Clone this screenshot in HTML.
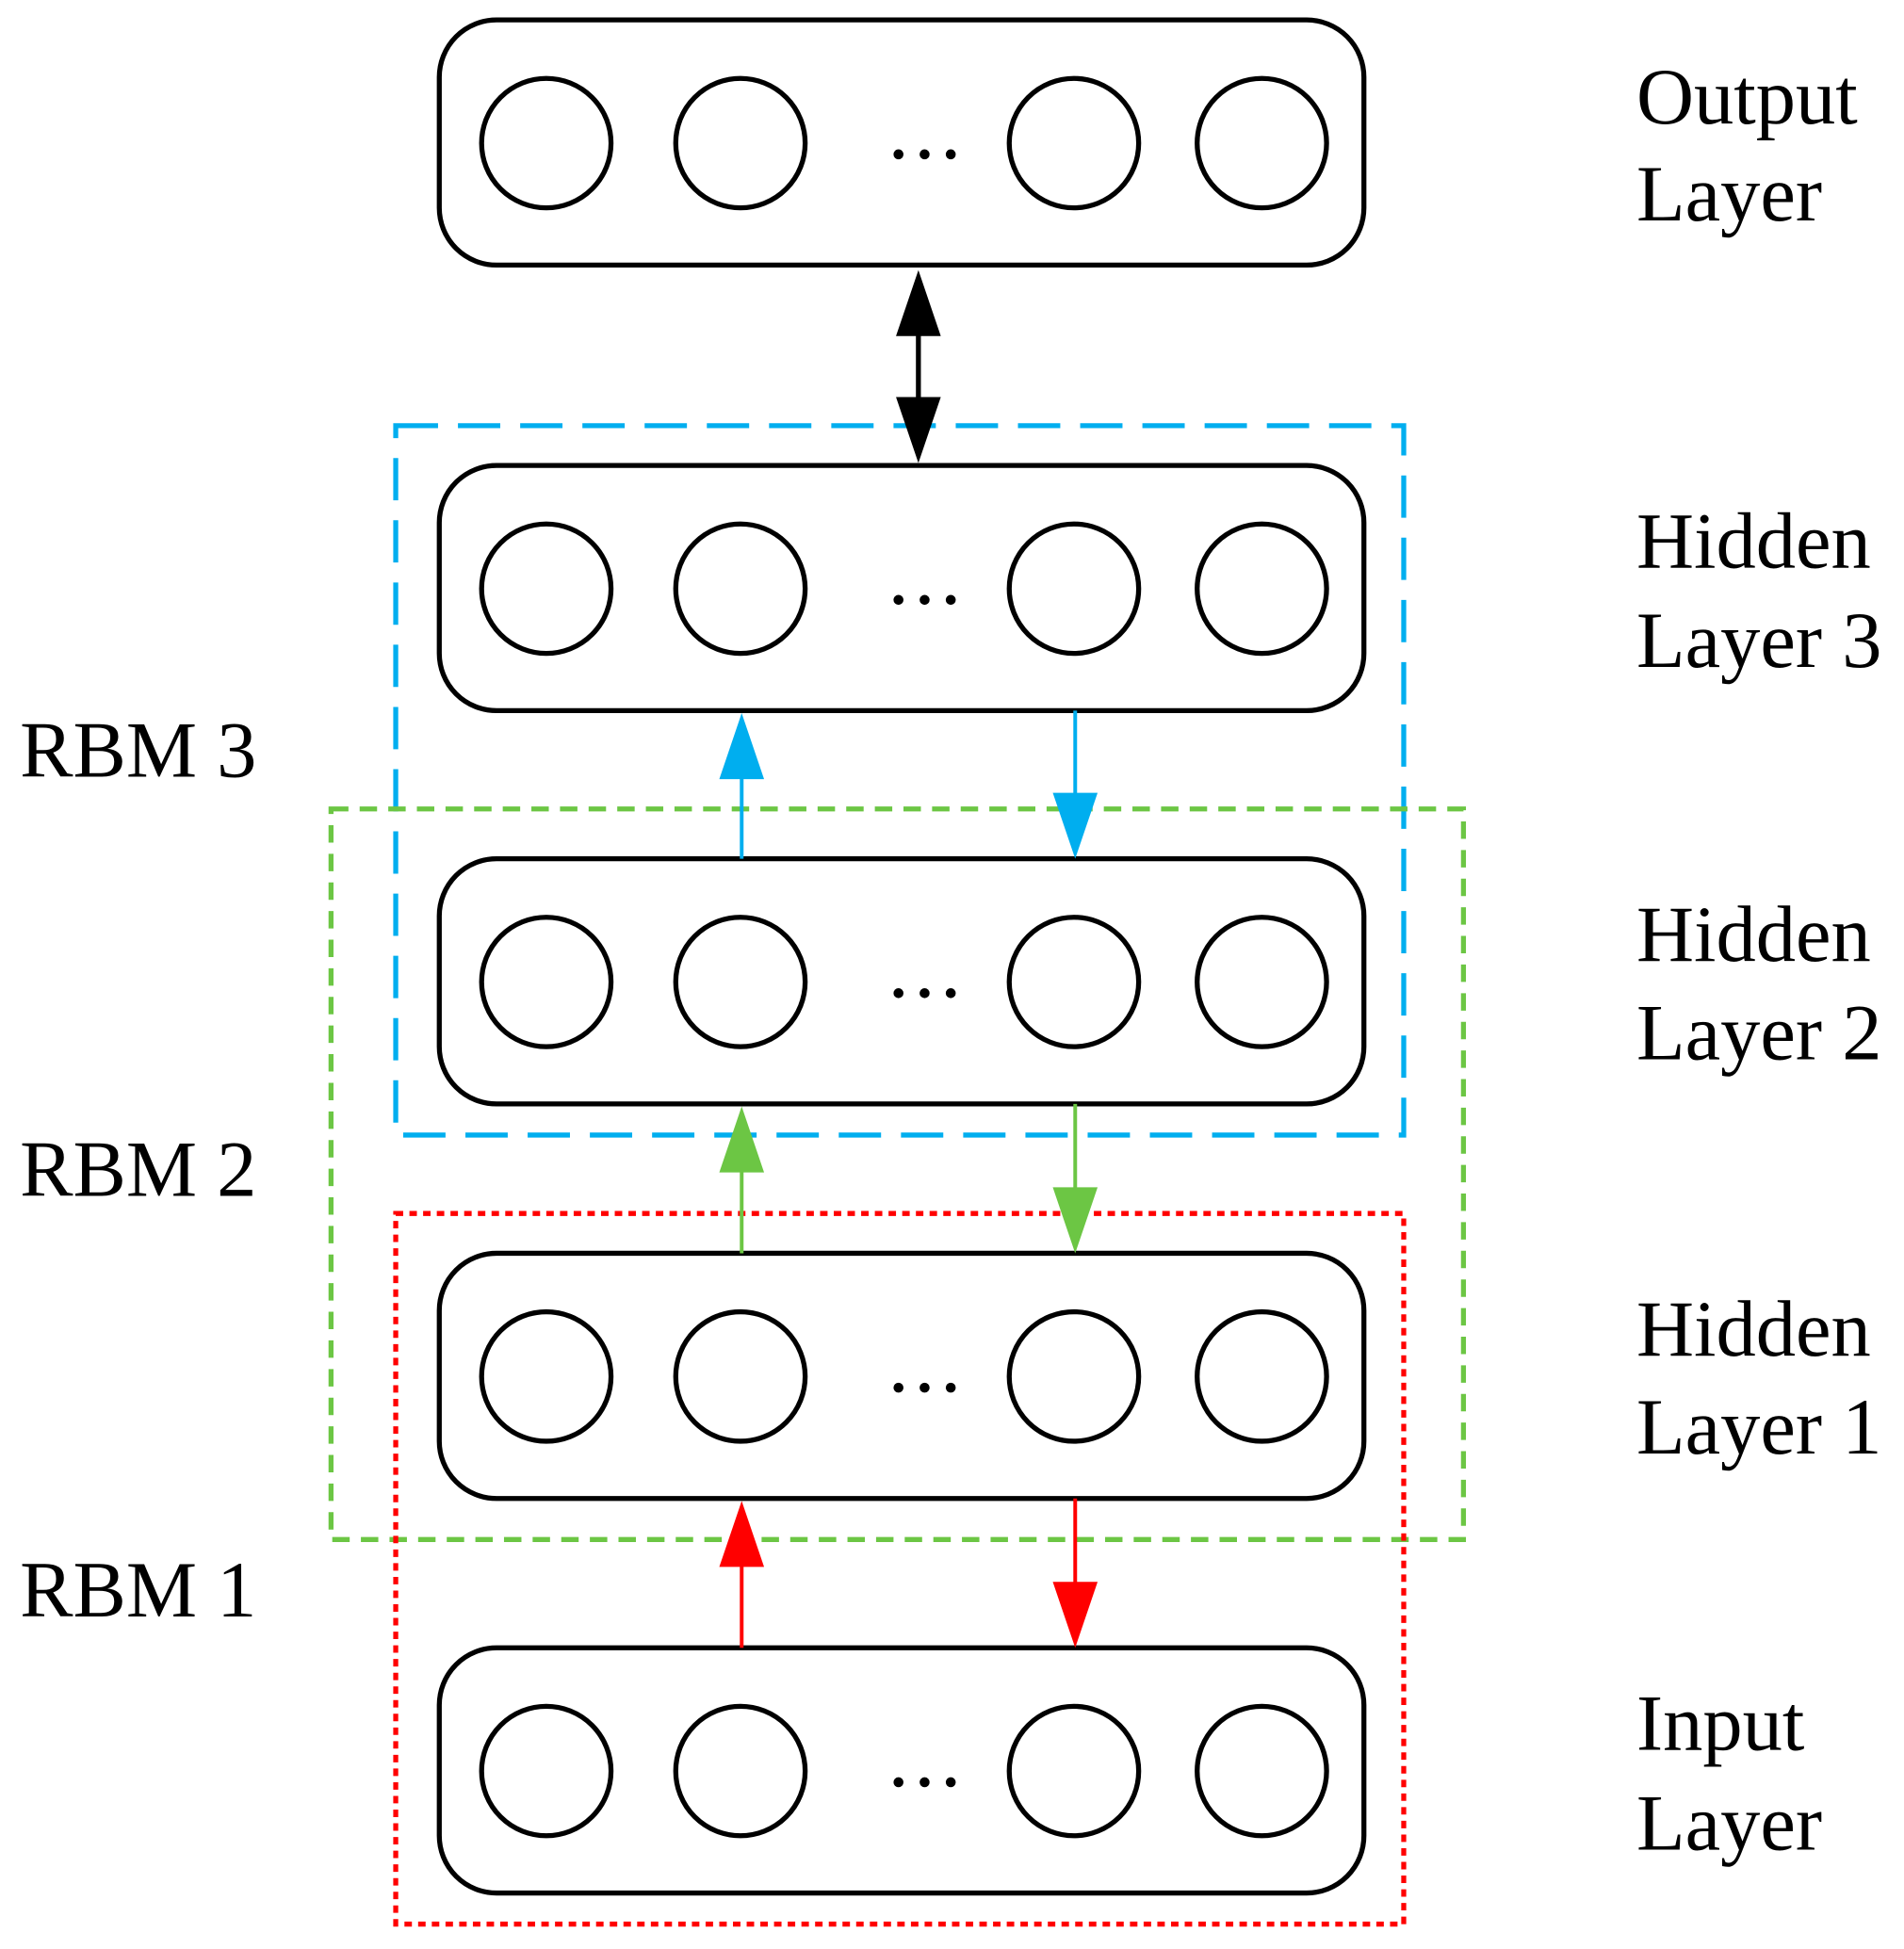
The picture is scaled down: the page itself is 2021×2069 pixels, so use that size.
<!DOCTYPE html>
<html><head><meta charset="utf-8"><style>
html,body{margin:0;padding:0;background:#fff;}
svg{display:block;}
text{font-family:"Liberation Serif",serif;font-size:64px;fill:#000;}
</style></head><body>
<svg width="2021" height="2069" viewBox="0 0 1530 1566" preserveAspectRatio="none" xmlns="http://www.w3.org/2000/svg">
<rect x="318" y="342" width="810" height="570" fill="none" stroke="#00aeef" stroke-width="4" stroke-dasharray="34,16"/>
<rect x="266" y="650" width="910" height="587" fill="none" stroke="#6cc644" stroke-width="4" stroke-dasharray="14,9"/>
<rect x="318" y="975" width="810" height="571" fill="none" stroke="#ff0000" stroke-width="4" stroke-dasharray="6,5"/>
<g fill="none" stroke="#000" stroke-width="4">
<rect x="353" y="16" width="743" height="197" rx="46"/>
<rect x="353" y="374" width="743" height="197" rx="46"/>
<rect x="353" y="690" width="743" height="197" rx="46"/>
<rect x="353" y="1007" width="743" height="197" rx="46"/>
<rect x="353" y="1324" width="743" height="197" rx="46"/>
</g>
<g fill="#fff" stroke="#000" stroke-width="4">
<circle cx="439" cy="115" r="52"/><circle cx="595" cy="115" r="52"/><circle cx="863" cy="115" r="52"/><circle cx="1014" cy="115" r="52"/>
<circle cx="439" cy="473" r="52"/><circle cx="595" cy="473" r="52"/><circle cx="863" cy="473" r="52"/><circle cx="1014" cy="473" r="52"/>
<circle cx="439" cy="789" r="52"/><circle cx="595" cy="789" r="52"/><circle cx="863" cy="789" r="52"/><circle cx="1014" cy="789" r="52"/>
<circle cx="439" cy="1106" r="52"/><circle cx="595" cy="1106" r="52"/><circle cx="863" cy="1106" r="52"/><circle cx="1014" cy="1106" r="52"/>
<circle cx="439" cy="1423" r="52"/><circle cx="595" cy="1423" r="52"/><circle cx="863" cy="1423" r="52"/><circle cx="1014" cy="1423" r="52"/>
</g>
<g fill="#000">
<circle cx="722" cy="124" r="4"/><circle cx="743" cy="124" r="4"/><circle cx="764" cy="124" r="4"/>
<circle cx="722" cy="482" r="4"/><circle cx="743" cy="482" r="4"/><circle cx="764" cy="482" r="4"/>
<circle cx="722" cy="798" r="4"/><circle cx="743" cy="798" r="4"/><circle cx="764" cy="798" r="4"/>
<circle cx="722" cy="1115" r="4"/><circle cx="743" cy="1115" r="4"/><circle cx="764" cy="1115" r="4"/>
<circle cx="722" cy="1432" r="4"/><circle cx="743" cy="1432" r="4"/><circle cx="764" cy="1432" r="4"/>
</g>
<line x1="738" y1="260" x2="738" y2="330" stroke="#000" stroke-width="4"/>
<path d="M738,217 L720,270 L756,270z" fill="#000"/>
<path d="M738,372 L720,319 L756,319z" fill="#000"/>
<line x1="596" y1="690" x2="596" y2="620" stroke="#00aeef" stroke-width="3"/>
<path d="M596,573 L578,626 L614,626z" fill="#00aeef"/>
<line x1="864" y1="571" x2="864" y2="640" stroke="#00aeef" stroke-width="3"/>
<path d="M864,690 L846,637 L882,637z" fill="#00aeef"/>
<line x1="596" y1="1007" x2="596" y2="937" stroke="#6cc644" stroke-width="3"/>
<path d="M596,889 L578,942 L614,942z" fill="#6cc644"/>
<line x1="864" y1="887" x2="864" y2="957" stroke="#6cc644" stroke-width="3"/>
<path d="M864,1007 L846,954 L882,954z" fill="#6cc644"/>
<line x1="596" y1="1324" x2="596" y2="1254" stroke="#ff0000" stroke-width="3"/>
<path d="M596,1206 L578,1259 L614,1259z" fill="#ff0000"/>
<line x1="864" y1="1204" x2="864" y2="1274" stroke="#ff0000" stroke-width="3"/>
<path d="M864,1324 L846,1271 L882,1271z" fill="#ff0000"/>
<text x="1315" y="99">Output</text><text x="1315" y="177">Layer</text>
<text x="1315" y="456">Hidden</text><text x="1315" y="536">Layer 3</text>
<text x="1315" y="772">Hidden</text><text x="1315" y="851">Layer 2</text>
<text x="1315" y="1089">Hidden</text><text x="1315" y="1168">Layer 1</text>
<text x="1315" y="1406">Input</text><text x="1315" y="1486">Layer</text>
<text x="16" y="624">RBM 3</text>
<text x="16" y="961">RBM 2</text>
<text x="16" y="1299">RBM 1</text>
</svg>
</body></html>
